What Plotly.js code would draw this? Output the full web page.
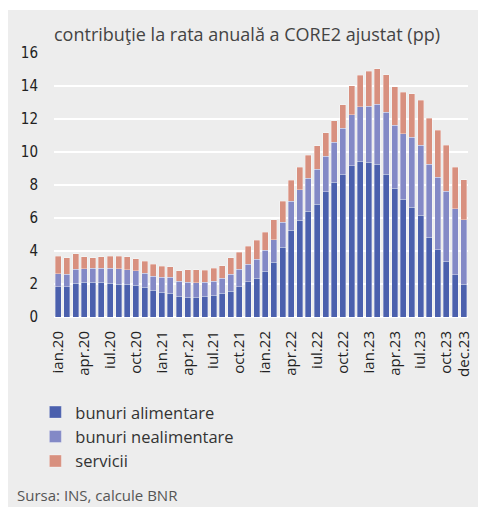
<!DOCTYPE html>
<html>
<head>
<meta charset="utf-8">
<script src="https://cdn.plot.ly/plotly-3.0.1.min.js"></script>
<style>
  html, body { margin: 0; padding: 0; background: #ffffff; }
  #plot { position: absolute; left: 8px; top: 10px; width: 470px; height: 497px; }
</style>
</head>
<body>
<div id="plot"></div>
<script>
// months / years used for the category labels
var months = ["ian", "feb", "mar", "apr", "mai", "iun", "iul", "aug", "sep", "oct", "noi", "dec"];
var years = ["20", "21", "22", "23"];

// contributions, pp
var alimentare = [
  1.82, 1.82, 2.04, 2.10, 2.10, 2.10, 2.04, 2.00, 1.98, 1.92, 1.80, 1.62,
  1.49, 1.43, 1.25, 1.19, 1.19, 1.25, 1.31, 1.43, 1.56, 1.84, 2.14, 2.34,
  2.77, 3.31, 4.22, 5.25, 5.86, 6.40, 6.83, 7.58, 8.18, 8.65, 9.17, 9.45,
  9.37, 9.25, 8.65, 7.80, 7.13, 6.65, 6.18, 4.83, 4.08, 3.37, 2.57, 2.00
];
var nealimentare = [
  0.79, 0.77, 0.85, 0.81, 0.85, 0.87, 0.91, 0.91, 0.87, 0.87, 0.85, 0.86,
  0.93, 0.97, 0.93, 0.91, 0.89, 0.85, 0.87, 0.93, 1.03, 1.05, 1.07, 1.15,
  1.27, 1.38, 1.52, 1.76, 1.84, 2.00, 2.12, 2.16, 2.41, 2.80, 3.09, 3.30,
  3.40, 3.64, 3.75, 3.82, 3.98, 4.24, 4.22, 4.42, 4.40, 4.25, 4.00, 3.88
];
var servicii = [
  1.07, 0.99, 0.93, 0.75, 0.63, 0.69, 0.73, 0.77, 0.79, 0.75, 0.74, 0.71,
  0.65, 0.65, 0.63, 0.77, 0.79, 0.73, 0.77, 0.75, 0.99, 1.03, 1.07, 1.16,
  1.11, 1.19, 1.27, 1.29, 1.39, 1.40, 1.43, 1.43, 1.31, 1.42, 1.76, 1.90,
  2.12, 2.16, 2.27, 2.34, 2.51, 2.63, 2.75, 2.81, 2.85, 2.80, 2.50, 2.44
];

var labels = [];
years.forEach(function(y) {
  months.forEach(function(m) { labels.push(m + "." + y); });
});

// every third month labelled, plus the last one
var tickLabels = labels.filter(function(d, i) { return i % 3 === 0; });
tickLabels.push(labels[labels.length - 1]);

// tick marks sit on the boundaries between quarters
var boundaries = [];
for (var i = 0; i < labels.length; i += 3) boundaries.push(i - 0.5);
boundaries.push(labels.length - 0.5);

var edge = {color: "rgba(255,255,255,0.55)", width: 0.6};

var trace1 = {
  x: labels, y: alimentare, name: "bunuri alimentare", type: "bar",
  marker: {color: "#4b60ad", line: edge}
};
var trace2 = {
  x: labels, y: nealimentare, name: "bunuri nealimentare", type: "bar",
  marker: {color: "#8389c6", line: edge}
};
var trace3 = {
  x: labels, y: servicii, name: "servicii", type: "bar",
  marker: {color: "#d8907f", line: edge}
};

var tickFont = {family: "DejaVu Sans Condensed, Liberation Sans Narrow, sans-serif", size: 15, color: "#222"};

var layout = {
  width: 470,
  height: 497,
  margin: {l: 46, r: 10, t: 43, b: 190},
  paper_bgcolor: "#ededed",
  plot_bgcolor: "#ededed",
  barmode: "stack",
  bargap: 0.3,
  showlegend: true,
  font: {family: "Open Sans, sans-serif", color: "#333"},
  title: {
    text: "contribuţie la rata anuală a CORE2 ajustat (pp)",
    font: {size: 18, color: "#444", family: "Open Sans, sans-serif"},
    xref: "paper", x: 0, xanchor: "left",
    yref: "container", y: 0.95, yanchor: "middle"
  },
  xaxis: {
    type: "category",
    range: [-0.5, labels.length - 0.5],
    tickmode: "array",
    tickvals: tickLabels,
    ticktext: tickLabels,
    tickangle: -90,
    ticks: "",
    ticklabelstandoff: 10,
    tickfont: {family: "Open Sans, sans-serif", size: 15, color: "#222"},
    showgrid: false,
    showline: false,
    zeroline: false
  },
  xaxis2: {
    overlaying: "x",
    anchor: "y",
    side: "bottom",
    range: [-0.5, labels.length - 0.5],
    tickmode: "array",
    tickvals: boundaries,
    ticks: "outside",
    ticklen: 5,
    tickwidth: 1.5,
    tickcolor: "#ffffff",
    showticklabels: false,
    showgrid: false,
    zeroline: false,
    showline: false
  },
  yaxis: {
    range: [0, 16],
    dtick: 2,
    tick0: 0,
    gridcolor: "#ffffff",
    gridwidth: 1.5,
    zeroline: true,
    zerolinecolor: "#ffffff",
    zerolinewidth: 1.5,
    ticks: "outside",
    ticklen: 12,
    tickcolor: "rgba(0,0,0,0)",
    tickfont: tickFont
  },
  legend: {
    x: -0.045, xanchor: "left",
    y: -0.295, yanchor: "top",
    bgcolor: "rgba(0,0,0,0)",
    traceorder: "normal",
    font: {size: 16.5, color: "#333", family: "Open Sans, sans-serif"}
  },
  annotations: [{
    text: "Sursa: INS, calcule BNR",
    xref: "paper", yref: "paper",
    x: -0.095, y: -0.675,
    xanchor: "left", yanchor: "middle",
    showarrow: false,
    font: {size: 15, color: "#555", family: "Open Sans, sans-serif"}
  }]
};

Plotly.newPlot("plot", [trace1, trace2, trace3], layout, {displayModeBar: false, staticPlot: true});
</script>
</body>
</html>
